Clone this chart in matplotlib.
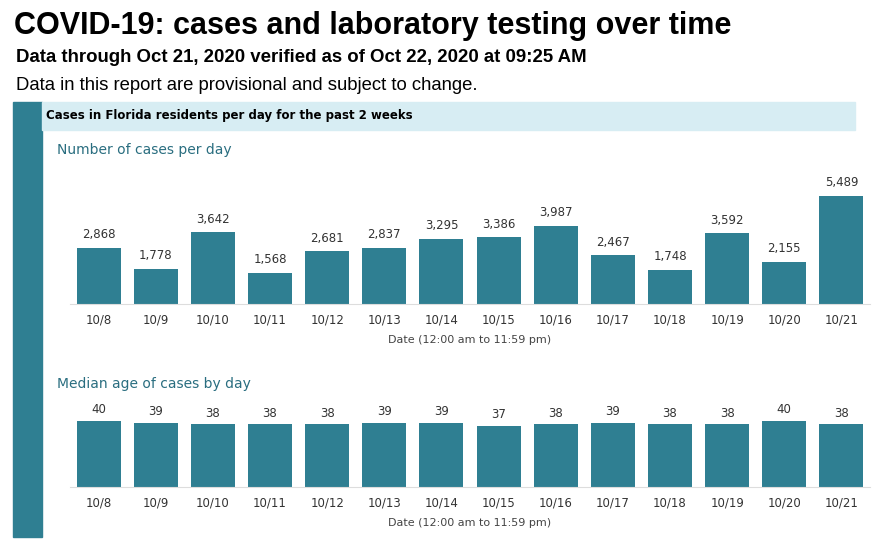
import matplotlib
matplotlib.use("Agg")
import matplotlib.pyplot as plt
from matplotlib.patches import Rectangle

dates = ["10/8","10/9","10/10","10/11","10/12","10/13","10/14","10/15","10/16","10/17","10/18","10/19","10/20","10/21"]
cases = [2868,1778,3642,1568,2681,2837,3295,3386,3987,2467,1748,3592,2155,5489]
median_age = [40,39,38,38,38,39,39,37,38,39,38,38,40,38]

W, H = 880, 551
fig = plt.figure(figsize=(8.8, 5.51), dpi=100)
teal = "#2f7f92"

def fx(x): return x / W
def fy(y): return 1 - y / H

fig.text(fx(14), fy(26), "COVID-19: cases and laboratory testing over time", fontsize=22, fontweight="bold", va="center", family="Liberation Sans")
fig.text(fx(16), fy(57), "Data through Oct 21, 2020 verified as of Oct 22, 2020 at 09:25 AM", fontsize=13.4, fontweight="bold", va="center", family="Liberation Sans")
fig.text(fx(16), fy(86), "Data in this report are provisional and subject to change.", fontsize=13.3, va="center", family="Liberation Sans")

fig.patches.append(Rectangle((fx(13), fy(537)), fx(29), (537-102)/H, transform=fig.transFigure, color=teal, zorder=0))
fig.patches.append(Rectangle((fx(42), fy(130)), fx(813), 28/H, transform=fig.transFigure, color="#d7edf3", zorder=0))
fig.text(fx(46), fy(116), "Cases in Florida residents per day for the past 2 weeks", fontsize=8.5, fontweight="bold", va="center")
fig.text(fx(57), fy(150), "Number of cases per day", fontsize=10, color="#2a6e80", va="center")
fig.text(fx(57), fy(384), "Median age of cases by day", fontsize=10, color="#2a6e80", va="center")

def panel(bottom_px, height_px, vals, ymax, labfmt):
    ax = fig.add_axes([fx(70), bottom_px / H, 800 / W, height_px / H])
    x = range(len(vals))
    ax.bar(x, vals, width=0.77, color=teal)
    for i, v in enumerate(vals):
        ax.text(i, v + ymax * 0.05, labfmt(v), ha="center", va="bottom", fontsize=8.5, color="#333333")
    ax.set_xlim(-0.5, len(vals) - 0.5)
    ax.set_ylim(0, ymax)
    ax.set_yticks([])
    ax.set_xticks(list(x))
    ax.set_xticklabels(dates, fontsize=8.5, color="#333333")
    ax.tick_params(axis="x", length=0, pad=7)
    for s in ["top", "right", "left"]:
        ax.spines[s].set_visible(False)
    ax.spines["bottom"].set_color("#dddddd")
    ax.set_xlabel("Date (12:00 am to 11:59 pm)", fontsize=8, color="#444444", labelpad=6)
    return ax

panel(247, 134, cases, 6810, lambda v: f"{v:,}")
panel(64, 90, median_age, 54.5, lambda v: str(v))

fig.savefig("out.png", dpi=100)
